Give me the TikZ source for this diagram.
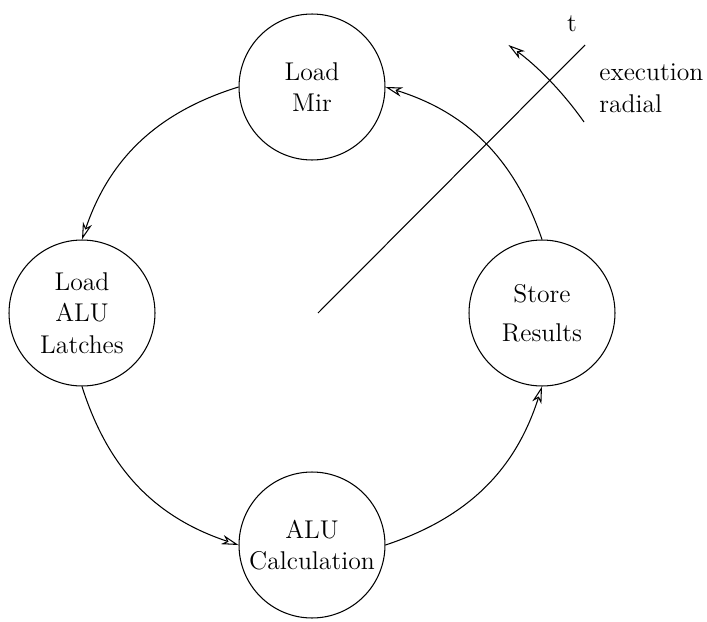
\documentclass[tikz,border=0pt]{standalone}
\usepackage{tikz}
\usetikzlibrary{arrows.meta}
\tikzset{
  stage/.style={draw,circle,minimum size=2.92cm,inner sep=0pt,align=center},
  flow/.style={-{Stealth[open,length=3.4mm,width=1.9mm,inset=1mm]}},
}

\begin{document}
\begin{tikzpicture}[x=0.02cm,y=-0.02cm,line width=0.6pt,
    font=\fontsize{14.6}{18}\selectfont]
    \useasboundingbox (0,0) rectangle (707,622);
    % stages
    \node[stage] (mir)   at (312,87)  {Load\\ Mir};
    \node[stage] (latch) at (82,313)  {Load\\ ALU\\ Latches};
    \node[stage] (store) at (542,313) {Store\\[4pt] Results};
    \node[stage] (calc)  at (312,545) {ALU\\ Calculation};
    % cycle
    \draw[flow] (mir.west) to[bend right=27] (latch.north);
    \draw[flow] (latch.south) to[bend right=27] (calc.west);
    \draw[flow] (calc.east) to[bend right=27] (store.south);
    \draw[flow] (store.north) to[bend right=27] (mir.east);
    % time axis
    \coordinate (tfrom) at (318,313);
    \coordinate (tto) at (585,45);
    \draw (tfrom) -- (tto);
    \node (tlabel) at (572,24) {t};
    \coordinate (execfrom) at (584,122);
    \draw[flow] (execfrom) arc[start angle=-35.1,end angle=-53.8,radius=332];
    \node[anchor=west,align=left] (exec) at (593,88) {execution\\ radial};
\end{tikzpicture}
\end{document}
